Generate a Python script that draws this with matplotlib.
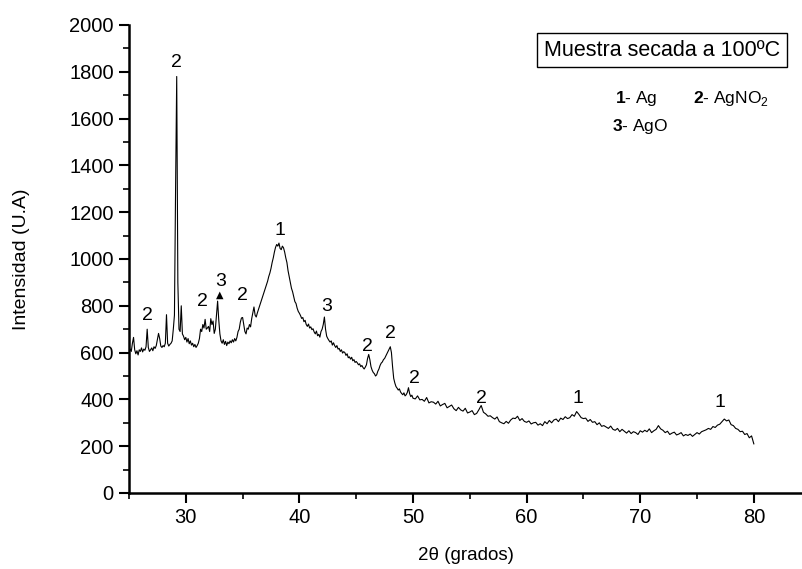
import numpy as np
import matplotlib
matplotlib.use("Agg")
import matplotlib.pyplot as plt
from matplotlib.ticker import MultipleLocator

plt.rcParams['font.family'] = ['Liberation Sans', 'DejaVu Sans']
plt.rcParams['mathtext.fontset'] = 'custom'
plt.rcParams['mathtext.rm'] = 'Liberation Sans'
plt.rcParams['mathtext.bf'] = 'Liberation Sans:bold'

# ---- data: 2theta 25.0 .. 50.0 step 0.1 ----
intensity_a = [
    600, 615, 605, 640, 665, 612, 595, 608, 590, 612,   # 25
    605, 620, 603, 615, 610, 625, 700, 622, 605, 612,   # 26
    620, 608, 625, 618, 630, 655, 682, 660, 628, 622,   # 27
    630, 625, 640, 762, 640, 628, 635, 640, 650, 700,   # 28
    760, 1300, 1780, 900, 700, 690, 800, 680, 670, 655, # 29
    665, 645, 660, 638, 650, 632, 640, 625, 635, 622,   # 30
    630, 640, 660, 700, 690, 720, 705, 742, 700, 705,   # 31
    712, 690, 745, 720, 735, 682, 700, 760, 820, 740,   # 32
    680, 650, 640, 655, 635, 648, 630, 645, 638, 650,   # 33
    642, 655, 645, 660, 650, 665, 690, 700, 730, 748,   # 34
    750, 720, 690, 680, 705, 700, 720, 710, 745, 770,   # 35
    795, 760, 752, 770, 785, 800, 815, 830, 845, 860,   # 36
    875, 890, 905, 925, 940, 960, 985, 1005, 1030, 1050,  # 37
    1062, 1055, 1068, 1045, 1040, 1055, 1048, 1030, 1005, 985,  # 38
    950, 925, 898, 875, 860, 838, 818, 810, 790, 776,   # 39
    768, 758, 746, 750, 732, 738, 720, 712, 722, 705,   # 40
    710, 698, 702, 688, 680, 692, 672, 678, 666, 690,   # 41
    700, 720, 752, 700, 670, 660, 652, 645, 650, 632,   # 42
    642, 630, 622, 630, 615, 618, 605, 612, 598, 604,   # 43
    600, 588, 595, 578, 582, 572, 580, 565, 570, 558,   # 44
    562, 556, 548, 552, 540, 545, 536, 530, 538, 548,   # 45
    575, 592, 570, 540, 525, 515, 510, 500, 505, 520,   # 46
    530, 545, 555, 560, 570, 575, 585, 595, 605, 615,   # 47
    625, 600, 540, 490, 470, 455, 448, 440, 445, 432,   # 48
    425, 420, 428, 415, 420, 430, 450, 425, 412, 418,   # 49
    405,                                                # 50.0
]
# ---- data: 2theta 50.2 .. 80.0 step 0.2 ----
intensity_b = [
    402, 415, 398, 400, 392, 408, 385, 390, 388, 380,
    392, 372, 378, 383, 364, 370, 376, 360, 352, 366,
    355, 350, 362, 342, 346, 352, 335, 340, 356, 374,
    345, 338, 328, 330, 322, 316, 325, 305, 300, 296,
    306, 298, 312, 320, 318, 328, 310, 318, 306, 302,
    308, 295, 300, 302, 290, 296, 288, 305, 296, 310,
    300, 312, 316, 305, 320, 314, 326, 318, 322, 335,
    328, 348, 336, 322, 318, 320, 306, 314, 302, 305,
    292, 300, 285, 288, 282, 276, 286, 272, 268, 276,
    262, 272, 264, 256, 266, 254, 262, 258, 250, 266,
    260, 268, 262, 274, 258, 266, 272, 288, 274, 268,
    258, 264, 250, 256, 260, 248, 252, 258, 244, 250,
    246, 252, 242, 250, 258, 252, 262, 266, 270, 276,
    272, 284, 280, 290, 294, 305, 316, 308, 312, 292,
    288, 276, 272, 262, 264, 250, 254, 236, 244, 210,
]
two_theta_a = np.round(np.arange(250 + 1) * 0.1 + 25.0, 2)
two_theta_b = np.round(np.arange(150) * 0.2 + 50.2, 2)
assert len(two_theta_a) == len(intensity_a)
assert len(two_theta_b) == len(intensity_b)
two_theta = np.concatenate([two_theta_a, two_theta_b])
intensity = np.concatenate([intensity_a, intensity_b])

# peak labels: (2theta, intensity position, label)
peak_x = [26.6, 29.2, 31.5, 33.1, 35.0, 38.3, 42.4, 46.0, 48.05, 50.1, 56.0, 64.5, 77.0]
peak_y = [757, 1838, 820, 902, 842, 1120, 799, 624, 680, 491, 402, 402, 385]
peak_lbl = ['2', '2', '2', '3', '2', '1', '3', '2', '2', '2', '2', '1', '1']

fig = plt.figure(figsize=(8.02, 5.69), dpi=100)
ax = fig.add_axes([129/802, 1-493/569, 1-129/802, (493-25)/569])
ax.plot(two_theta, intensity, color='black', lw=0.8)

for px, py, lb in zip(peak_x, peak_y, peak_lbl):
    ax.text(px, py, lb, ha='center', va='center', fontsize=14)
ax.text(32.95, 846, '▲', ha='center', va='center', fontsize=7,
        family=['DejaVu Sans'])

ax.set_xlim(25, 84.24)
ax.set_ylim(0, 2000)
ax.xaxis.set_major_locator(MultipleLocator(10))
ax.xaxis.set_minor_locator(MultipleLocator(5))
ax.yaxis.set_major_locator(MultipleLocator(200))
ax.yaxis.set_minor_locator(MultipleLocator(100))
ax.tick_params(which='major', direction='out', length=7, width=1.5, labelsize=14.5, pad=4)
ax.tick_params(which='minor', direction='out', length=4, width=1.2)
for s in ['top', 'right']:
    ax.spines[s].set_visible(False)
for s in ['left', 'bottom']:
    ax.spines[s].set_linewidth(1.8)

ax.set_xlabel('2θ (grados)', fontsize=13.5, labelpad=14)
ax.set_ylabel('Intensidad (U.A)', fontsize=14, labelpad=28)

fig.text(662/802, 1-50/569, 'Muestra secada a 100ºC', ha='center', va='center',
         fontsize=15.5,
         bbox=dict(boxstyle='square,pad=0.3', fc='white', ec='black', lw=1))
fig.text(615/802, 1-98/569, r'$\mathbf{1}$- Ag', ha='left', va='center', fontsize=12.5)
fig.text(693/802, 1-98/569, r'$\mathbf{2}$- AgNO$_2$', ha='left', va='center', fontsize=12.5)
fig.text(612/802, 1-126/569, r'$\mathbf{3}$- AgO', ha='left', va='center', fontsize=12.5)

fig.savefig('out.png', dpi=100)
